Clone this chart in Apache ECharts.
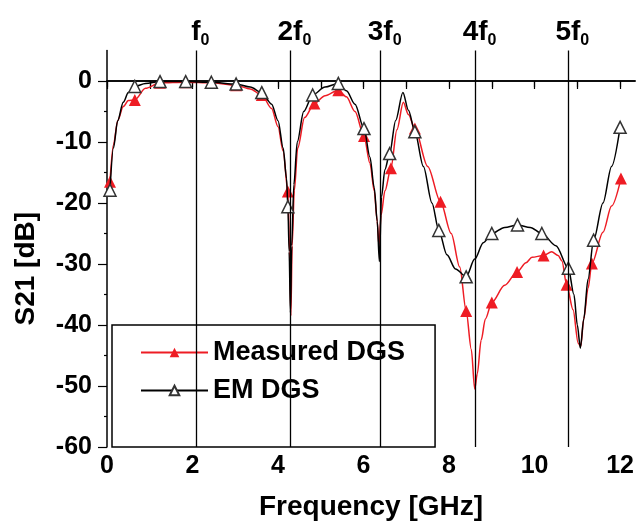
<!DOCTYPE html>
<html>
<head>
<meta charset="utf-8">
<script src="https://cdn.jsdelivr.net/npm/echarts@6/dist/echarts.min.js"></script>
<style>
html, body { margin: 0; padding: 0; background: #fff; }
#chart { width: 637px; height: 528px; }
</style>
</head>
<body>
<div id="chart"></div>
<script>
// harmonic markers
var harmonicFreq = [2.09, 4.29, 6.40, 8.62, 10.79];
var harmonicNames = ['f', '2f', '3f', '4f', '5f'];

// axis ticks / labels
var xTickValues = [0, 1, 2, 3, 4, 5, 6, 7, 8, 9, 10, 11, 12];
var xLabelValues = [0, 2, 4, 6, 8, 10, 12];
var yMajorValues = [-60, -50, -40, -30, -20, -10, 0];
var yMinorValues = [-55, -45, -35, -25, -15, -5];

// EM DGS curve [GHz, dB]
var emCurve = [
  [0.07, -17.9], [0.15, -11], [0.25, -6.5], [0.38, -3.5], [0.5, -1.9], [0.65, -0.9],
  [0.9, -0.4], [1.24, -0.1], [1.84, -0.1], [2.44, -0.2], [3.02, -0.5], [3.35, -1.0],
  [3.62, -1.9], [3.85, -3.8], [4.0, -6.5], [4.12, -11], [4.2, -16], [4.23, -20.6],
  [4.26, -28], [4.29, -38], [4.32, -27], [4.37, -17], [4.45, -10], [4.6, -5],
  [4.81, -2.3], [5.1, -1.0], [5.41, -0.4], [5.6, -1.6], [5.8, -3.8], [6.01, -7.8],
  [6.15, -12.5], [6.25, -17.5], [6.32, -23], [6.37, -29.6], [6.42, -19], [6.5, -14.5],
  [6.61, -11.9], [6.75, -6.5], [6.92, -1.9], [7.05, -4.8], [7.2, -8.3], [7.4, -14],
  [7.6, -20], [7.76, -24.5], [7.95, -28.5], [8.15, -30.8], [8.4, -32.1], [8.6, -29.2],
  [8.8, -26.5], [9.0, -25.0], [9.3, -24], [9.6, -23.6], [9.9, -24], [10.17, -25.0],
  [10.5, -27], [10.79, -30.7], [10.92, -35], [11.0, -40], [11.07, -43.8], [11.15, -39],
  [11.25, -32.5], [11.38, -26.1], [11.6, -20], [11.8, -14], [12.0, -7.6]
];
var emMarkers = [0.07, 0.65, 1.24, 1.84, 2.44, 3.02, 3.62, 4.23, 4.81, 5.41, 6.01, 6.61,
  7.2, 7.76, 8.4, 9.0, 9.6, 10.17, 10.79, 11.38, 12.0];

// Measured DGS curve [GHz, dB]
var measCurve = [
  [0.07, -16.5], [0.15, -10.5], [0.25, -6.5], [0.38, -4.2], [0.5, -3.2], [0.65, -3.1],
  [0.9, -1.2], [1.24, -0.3], [1.84, -0.2], [2.44, -0.3], [3.02, -0.7], [3.35, -1.3],
  [3.62, -2.3], [3.85, -4.5], [4.0, -7.5], [4.12, -11.5], [4.23, -18.1], [4.27, -28],
  [4.30, -38.5], [4.33, -27], [4.38, -18], [4.46, -11], [4.62, -6], [4.85, -3.7],
  [5.1, -2.4], [5.41, -1.5], [5.6, -2.6], [5.8, -5], [6.01, -9.0], [6.15, -13.5],
  [6.25, -18], [6.32, -23], [6.36, -27], [6.41, -22], [6.5, -18], [6.64, -14.3],
  [6.78, -8], [6.93, -3.5], [7.05, -5.5], [7.2, -7.8], [7.5, -14], [7.8, -19.8],
  [8.05, -25], [8.25, -30.5], [8.4, -37.7], [8.52, -44], [8.6, -50.5], [8.66, -48],
  [8.75, -42.5], [8.85, -39], [9.0, -36.3], [9.3, -33.5], [9.59, -31.3], [9.8, -29.8],
  [9.94, -28.9], [10.21, -28.6], [10.4, -28.0], [10.55, -28.6], [10.64, -29.5], [10.75, -33.4],
  [10.9, -37.5], [11.02, -43], [11.08, -43.5], [11.15, -39], [11.25, -34], [11.34, -29.9],
  [11.6, -24.8], [11.8, -20.5], [12.02, -16.0]
];
var measMarkers = [0.07, 0.65, 1.24, 1.84, 2.44, 3.02, 3.62, 4.23, 4.85, 5.41, 6.01, 6.64,
  7.2, 7.8, 8.4, 9.0, 9.59, 10.21, 10.75, 11.34, 12.02];

var FONT = 'Liberation Sans, Arial, sans-serif';

function withMarkers(curve, marks) {
  return curve.map(function (p) {
    return marks.indexOf(p[0]) >= 0 ? { value: p } : { value: p, symbol: 'none' };
  });
}

var chart = echarts.init(document.getElementById('chart'));

chart.setOption({
  animation: false,
  backgroundColor: '#fff',
  grid: { left: 107, right: 0, top: 50.5, bottom: 81 },
  legend: {
    orient: 'vertical',
    left: 112,
    top: 325,
    data: ['Measured DGS', 'EM DGS'],
    backgroundColor: '#fff',
    borderColor: '#000',
    borderWidth: 1.5,
    borderRadius: 0,
    padding: [14, 30, 43, 28],
    itemWidth: 67,
    itemHeight: 12,
    itemGap: 11,
    textStyle: { fontFamily: FONT, fontSize: 27, fontWeight: 'bold', color: '#000', lineHeight: 26 }
  },
  xAxis: [{
    type: 'value',
    position: 'bottom',
    min: 0,
    max: 12.35,
    interval: 1,
    name: 'Frequency [GHz]',
    nameLocation: 'middle',
    nameGap: 46,
    nameTextStyle: { fontFamily: FONT, fontSize: 28, fontWeight: 'bold', color: '#000' },
    axisLine: { lineStyle: { color: '#000', width: 1.5 } },
    axisTick: { length: 6, lineStyle: { color: '#000', width: 1.2 }, customValues: xTickValues },
    axisLabel: {
      customValues: xLabelValues,
      margin: 7,
      fontFamily: FONT, fontSize: 25, fontWeight: 'bold', color: '#000',
      formatter: function (v) { return v % 2 === 0 && v <= 12 ? String(v) : ''; }
    },
    splitLine: { show: false }
  }, {
    type: 'value',
    position: 'top',
    min: 0,
    max: 12.35,
    interval: 1,
    axisLine: { show: true, lineStyle: { color: '#000', width: 1.5 } },
    axisTick: { inside: true, length: 8, lineStyle: { color: '#000', width: 1.2 }, customValues: xTickValues },
    axisLabel: { show: false },
    splitLine: { show: false }
  }],
  yAxis: [{
    type: 'value',
    min: -60,
    max: 5,
    interval: 10,
    name: 'S21 [dB]',
    nameLocation: 'middle',
    nameGap: 67,
    nameTextStyle: { fontFamily: FONT, fontSize: 28, fontWeight: 'bold', color: '#000', padding: [0, 40, 0, 0] },
    axisLine: { show: true, lineStyle: { color: '#000', width: 1.5 } },
    axisTick: { length: 9, lineStyle: { color: '#000', width: 1.2 }, customValues: yMajorValues },
    axisLabel: {
      customValues: yMajorValues,
      margin: 15,
      fontFamily: FONT, fontSize: 25, fontWeight: 'bold', color: '#000'
    },
    splitLine: { show: false }
  }, {
    type: 'value',
    position: 'left',
    min: -60,
    max: 5,
    interval: 5,
    axisLine: { show: false },
    axisTick: { show: true, length: 3, lineStyle: { color: '#000', width: 1.2 }, customValues: yMinorValues },
    axisLabel: { show: false },
    splitLine: { show: false }
  }],
  series: [{
    type: 'line',
    name: 'harmonics',
    data: [],
    markLine: {
      silent: true,
      symbol: ['none', 'none'],
      animation: false,
      lineStyle: { color: '#000', width: 1.3, type: 'solid' },
      label: {
        position: 'end',
        distance: 2,
        offset: [4, 0],
        color: '#000',
        rich: {
          m: { fontFamily: FONT, fontSize: 28, fontWeight: 'bold', color: '#000', lineHeight: 30, verticalAlign: 'top' },
          s: { fontFamily: FONT, fontSize: 16, fontWeight: 'bold', color: '#000', lineHeight: 16, padding: [26, 0, 0, 0], verticalAlign: 'bottom' }
        }
      },
      data: harmonicFreq.map(function (f, i) {
        return { xAxis: f, label: { formatter: '{m|' + harmonicNames[i] + '}{s|0}' } };
      })
    }
  }, {
    type: 'line',
    name: 'Measured DGS',
    data: withMarkers(measCurve, measMarkers),
    smooth: 0.3,
    smoothMonotone: 'x',
    symbol: 'triangle',
    symbolSize: 12,
    itemStyle: { color: '#ee1c24' },
    lineStyle: { color: '#ee1c24', width: 1.5 },
    z: 3
  }, {
    type: 'line',
    name: 'EM DGS',
    data: withMarkers(emCurve, emMarkers),
    smooth: 0.3,
    smoothMonotone: 'x',
    symbol: 'triangle',
    symbolSize: 12,
    itemStyle: { color: '#fff', borderColor: '#333', borderWidth: 1.5 },
    lineStyle: { color: '#000', width: 1.5 },
    z: 4
  }]
});
</script>
</body>
</html>
